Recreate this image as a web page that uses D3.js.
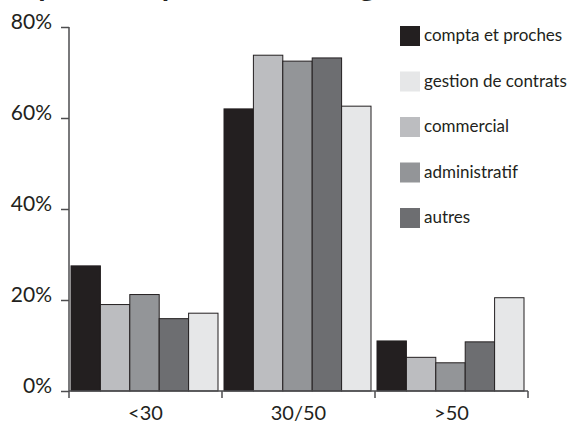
<!DOCTYPE html>
<html>
<head>
<meta charset="utf-8">
<script src="https://cdn.jsdelivr.net/npm/d3@7"></script>
<style>
  body { margin: 0; background: #fff; }
  svg { display: block; }
  text { font-family: Lato, "Open Sans", sans-serif; fill: #231f20; }
</style>
</head>
<body>
<script>
// data
const ageGroups = ["<30", "30/50", ">50"]
const series = ["compta et proches", "commercial", "administratif", "autres", "gestion de contrats"]
const legendOrder = ["compta et proches", "gestion de contrats", "commercial", "administratif", "autres"]
const comptaValues = [27.5, 62.0, 11.0]
const commercialValues = [19.0, 73.8, 7.4]
const administratifValues = [21.2, 72.5, 6.2]
const autresValues = [15.9, 73.2, 10.8]
const gestionValues = [17.1, 62.6, 20.5]
const yTicks = [0, 20, 40, 60, 80]

const valuesBySeries = {
  "compta et proches": comptaValues,
  "commercial": commercialValues,
  "administratif": administratifValues,
  "autres": autresValues,
  "gestion de contrats": gestionValues,
}

const colors = {
  "compta et proches": "#231f20",
  "gestion de contrats": "#e6e7e8",
  "commercial": "#bcbdc0",
  "administratif": "#939598",
  "autres": "#6d6e71",
}

function drawChart() {
  let dimensions = {
    width: 570,
    height: 423,
    margin: { top: 27, right: 42, bottom: 32, left: 69 },
  }
  dimensions.boundedWidth = dimensions.width - dimensions.margin.left - dimensions.margin.right
  dimensions.boundedHeight = dimensions.height - dimensions.margin.top - dimensions.margin.bottom

  const wrapper = d3.select("body")
    .append("svg")
      .attr("width", dimensions.width)
      .attr("height", dimensions.height)

  // title, cut off at the top edge (only the descenders show)
  wrapper.append("text")
      .attr("x", 4)
      .attr("y", -4)
      .style("font-weight", "bold")
      .style("font-size", "30px")
      .text("Répartition par tranche d'âge")

  const bounds = wrapper.append("g")
    .attr("transform", `translate(${dimensions.margin.left}, ${dimensions.margin.top})`)

  // scales
  const x0 = d3.scaleBand()
    .domain(ageGroups)
    .range([0, dimensions.boundedWidth])

  const x1 = d3.scaleBand()
    .domain(series)
    .range([2, x0.bandwidth() - 4])

  const yScale = d3.scaleLinear()
    .domain([0, 80])
    .range([dimensions.boundedHeight, 0])

  // bars
  const groups = bounds.selectAll(".group")
    .data(ageGroups)
    .join("g")
      .attr("class", "group")
      .attr("transform", d => `translate(${x0(d)}, 0)`)

  groups.selectAll("rect")
    .data((g, i) => series.map(s => ({ s, v: valuesBySeries[s][i] })))
    .join("rect")
      .attr("x", d => x1(d.s))
      .attr("y", d => yScale(d.v))
      .attr("width", x1.bandwidth())
      .attr("height", d => dimensions.boundedHeight - yScale(d.v))
      .attr("fill", d => colors[d.s])
      .attr("stroke", "#231f20")
      .attr("stroke-width", 1)

  // y axis
  const yAxisGenerator = d3.axisLeft()
    .scale(yScale)
    .tickValues(yTicks)
    .tickSize(8)
    .tickPadding(9)
    .tickFormat(d => d + "%")

  const yAxis = bounds.append("g")
      .call(yAxisGenerator)
  yAxis.select(".domain").attr("d", `M0,0V${dimensions.boundedHeight}`)
  yAxis.selectAll("line, path").attr("stroke", "#4d4d4f").attr("stroke-width", 1.5)
  yAxis.selectAll("text")
      .attr("dy", "0.05em")
      .style("font-size", "21px")
      .attr("fill", "#231f20")

  // x axis
  const xAxis = bounds.append("g")
      .attr("transform", `translate(0, ${dimensions.boundedHeight})`)
  xAxis.append("line")
      .attr("x1", 0)
      .attr("x2", dimensions.boundedWidth)
      .attr("stroke", "#4d4d4f")
      .attr("stroke-width", 1.5)
  const boundaries = ageGroups.map(d => x0(d)).concat([x0(ageGroups[ageGroups.length - 1]) + x0.bandwidth()])
  xAxis.selectAll(".xtick")
    .data(boundaries)
    .join("line")
      .attr("class", "xtick")
      .attr("x1", d => d)
      .attr("x2", d => d)
      .attr("y1", 0)
      .attr("y2", 7)
      .attr("stroke", "#4d4d4f")
      .attr("stroke-width", 1.5)
  xAxis.selectAll(".xlabel")
    .data(ageGroups)
    .join("text")
      .attr("class", "xlabel")
      .attr("x", d => x0(d) + x0.bandwidth() / 2)
      .attr("y", 29)
      .attr("text-anchor", "middle")
      .style("font-size", "20px")
      .text(d => d)

  // legend
  const legend = wrapper.append("g")
      .attr("transform", "translate(400, 26)")
  const items = legend.selectAll("g")
    .data(legendOrder)
    .join("g")
      .attr("transform", (d, i) => `translate(0, ${i * 45.5})`)
  items.append("rect")
      .attr("width", 20)
      .attr("height", 20)
      .attr("fill", d => colors[d])
  items.append("text")
      .attr("x", 24)
      .attr("y", 15)
      .style("font-size", "17px")
      .text(d => d)
}
drawChart()
</script>
</body>
</html>
